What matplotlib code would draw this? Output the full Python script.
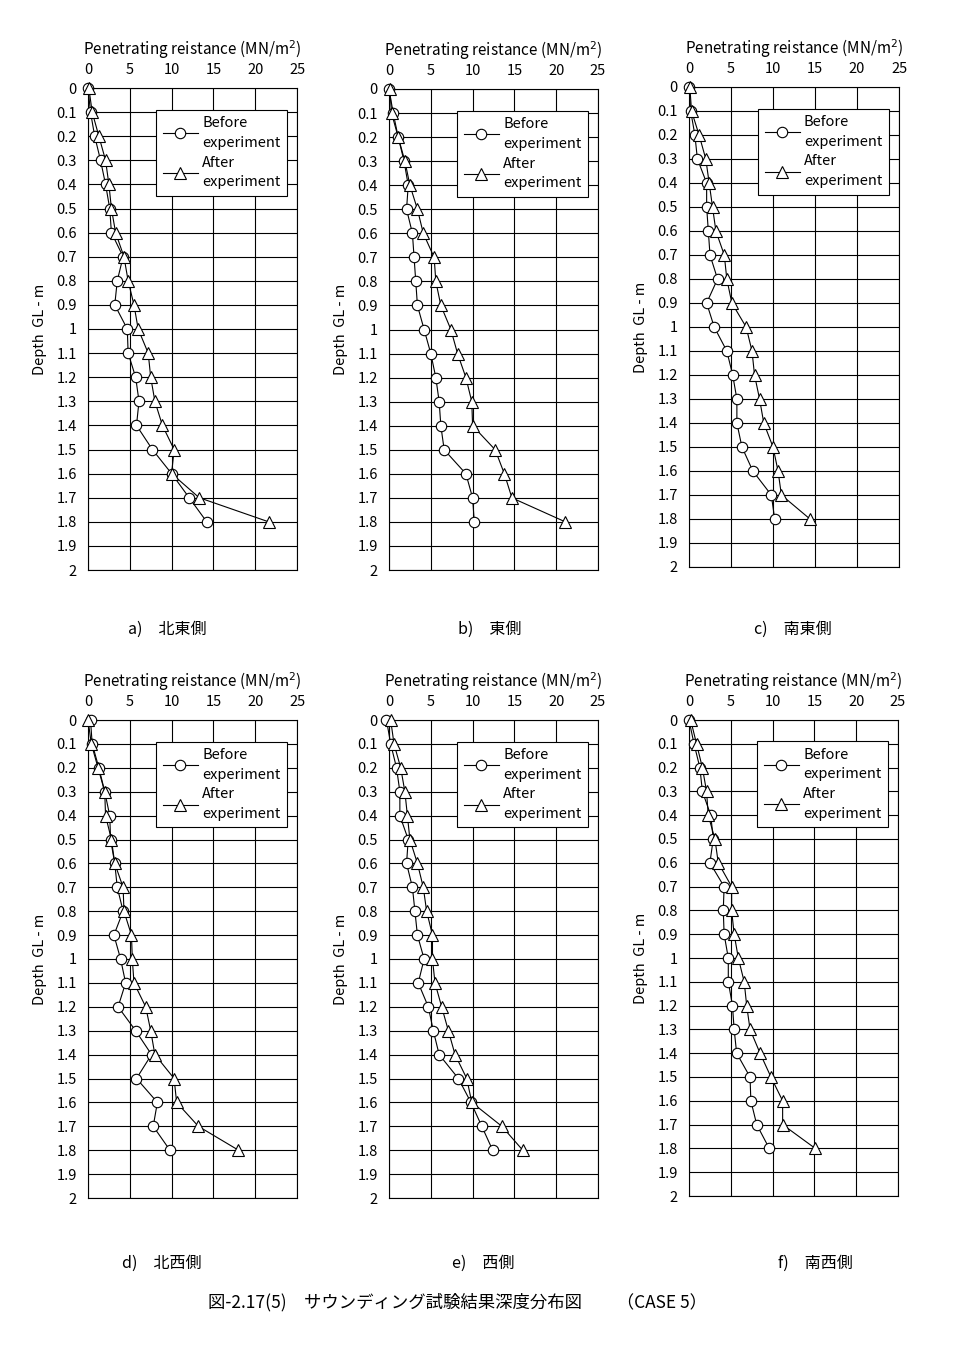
import numpy as np
import matplotlib
matplotlib.use("Agg")
import matplotlib.pyplot as plt

plt.rcParams['font.family'] = ['Noto Sans CJK JP', 'DejaVu Sans']

depth = [0, 0.1, 0.2, 0.3, 0.4, 0.5, 0.6, 0.7, 0.8, 0.9, 1.0,
         1.1, 1.2, 1.3, 1.4, 1.5, 1.6, 1.7, 1.8]

# a) 北東側
before_a = [0.0, 0.3, 0.8, 1.5, 2.1, 2.6, 2.8, 4.2, 3.5, 3.2, 4.7,
            4.8, 5.7, 6.1, 5.8, 7.7, 10.0, 12.1, 14.2]
after_a = [0.1, 0.5, 1.3, 2.1, 2.5, 2.8, 3.3, 4.3, 4.8, 5.5, 6.0,
           7.2, 7.5, 8.0, 8.9, 10.3, 10.0, 13.3, 21.6]
# b) 東側
before_b = [0.0, 0.5, 1.1, 1.8, 2.3, 2.1, 2.8, 3.0, 3.2, 3.4, 4.2,
            5.0, 5.6, 6.0, 6.2, 6.6, 9.2, 10.0, 10.2]
after_b = [0.1, 0.3, 1.1, 1.9, 2.5, 3.4, 4.1, 5.4, 5.6, 6.2, 7.4,
           8.2, 9.2, 9.9, 10.0, 12.7, 13.8, 14.7, 21.1]
# c) 南東側
before_c = [0.0, 0.2, 0.7, 1.0, 2.1, 2.1, 2.3, 2.5, 3.4, 2.1, 3.0,
            4.5, 5.2, 5.7, 5.7, 6.3, 7.6, 9.8, 10.2]
after_c = [0.1, 0.3, 1.2, 2.0, 2.4, 2.8, 3.2, 4.2, 4.5, 5.1, 6.8,
           7.5, 7.8, 8.4, 8.9, 10.0, 10.6, 11.0, 14.4]
# d) 北西側
before_d = [0.3, 0.5, 1.3, 2.0, 2.6, 2.7, 3.2, 3.5, 4.2, 3.1, 3.9,
            4.5, 3.6, 5.7, 7.6, 5.8, 8.3, 7.8, 9.8]
after_d = [0.0, 0.4, 1.2, 2.0, 2.1, 2.8, 3.2, 4.2, 4.3, 5.2, 5.3,
           5.5, 6.9, 7.5, 8.0, 10.3, 10.6, 13.2, 18.0]
# e) 西側
before_e = [-0.3, 0.2, 0.9, 1.3, 1.3, 2.3, 2.1, 2.8, 3.1, 3.4, 4.2,
            3.5, 4.7, 5.3, 6.0, 8.3, 9.8, 11.1, 12.4]
after_e = [0.2, 0.6, 1.4, 1.9, 2.2, 2.5, 3.4, 4.1, 4.5, 5.2, 5.2,
           5.5, 6.3, 7.1, 7.9, 9.3, 9.9, 13.5, 16.0]
# f) 南西側
before_f = [0.0, 0.6, 1.3, 1.6, 2.6, 2.9, 2.5, 4.2, 4.1, 4.2, 4.7,
            4.7, 5.2, 5.4, 5.7, 7.3, 7.4, 8.1, 9.6]
after_f = [0.2, 0.9, 1.6, 2.1, 2.3, 3.1, 3.5, 5.1, 5.1, 5.4, 5.9,
           6.6, 6.9, 7.3, 8.5, 9.8, 11.2, 11.2, 15.1]

captions = ['a)\u3000北東側', 'b)\u3000東側', 'c)\u3000南東側',
            'd)\u3000北西側', 'e)\u3000西側', 'f)\u3000南西側']
series = [(before_a, after_a), (before_b, after_b), (before_c, after_c),
          (before_d, after_d), (before_e, after_e), (before_f, after_f)]

W, H = 964, 1366
fig = plt.figure(figsize=(W / 100, H / 100), dpi=100)

# pixel boxes (left, top, right, bottom) of each plot area
boxes = [(88, 88, 297, 570), (389, 89, 598, 570), (689, 87, 899, 567),
         (88, 720, 297, 1198), (389, 720, 598, 1198), (689, 720, 898, 1196)]
caption_pos = [(167, 629), (490, 629), (793, 629),
               (162, 1263), (483, 1263), (815, 1263)]

yt = np.round(np.arange(0, 2.01, 0.1), 1)

for i, ((l, t, r, b), (bef, aft)) in enumerate(zip(boxes, series)):
    ax = fig.add_axes([l / W, 1 - b / H, (r - l) / W, (b - t) / H])
    ax.plot(bef, depth, color='black', lw=0.8, marker='o', ms=7.5,
            mfc='white', mec='black', mew=0.8, label='Before\nexperiment',
            clip_on=False, zorder=3)
    ax.plot(aft, depth, color='black', lw=0.8, marker='^', ms=8.5,
            mfc='white', mec='black', mew=0.8, label='After\nexperiment',
            clip_on=False, zorder=3)
    ax.set_xlim(0, 25)
    ax.set_ylim(2, 0)
    ax.set_xticks(np.arange(0, 26, 5))
    ax.set_yticks(yt)
    ax.set_yticklabels(['%g' % v for v in yt])
    ax.xaxis.tick_top()
    ax.tick_params(length=0, labelsize=10.5, pad=8)
    ax.grid(True, color='black', lw=0.8)
    for s in ax.spines.values():
        s.set_linewidth(0.8)
    ax.set_axisbelow(True)
    ax.set_xlabel('Penetrating reistance (MN/m$^2$)', fontsize=11, labelpad=6)
    ax.xaxis.set_label_position('top')
    ax.set_ylabel('Depth  GL - m', fontsize=10.5, labelpad=7)
    leg = ax.legend(loc='upper right', bbox_to_anchor=(0.952, 0.955),
                    borderaxespad=0, fancybox=False, framealpha=1,
                    edgecolor='black', fontsize=10.5, handlelength=2.4,
                    handletextpad=0.3, labelspacing=0.4, borderpad=0.45)
    for txt in leg.get_texts():
        txt.set_linespacing(1.5)
    leg.get_frame().set_linewidth(0.8)
    cx, cy = caption_pos[i]
    fig.text(cx / W, 1 - cy / H, captions[i], ha='center', va='center',
             fontsize=11.5)

fig.text(457 / W, 1 - 1302 / H,
         '図-2.17(5)\u3000サウンディング試験結果深度分布図\u3000\u3000（CASE 5）',
         ha='center', va='center', fontsize=12.5)

fig.savefig('out.png', dpi=100, facecolor='white')
